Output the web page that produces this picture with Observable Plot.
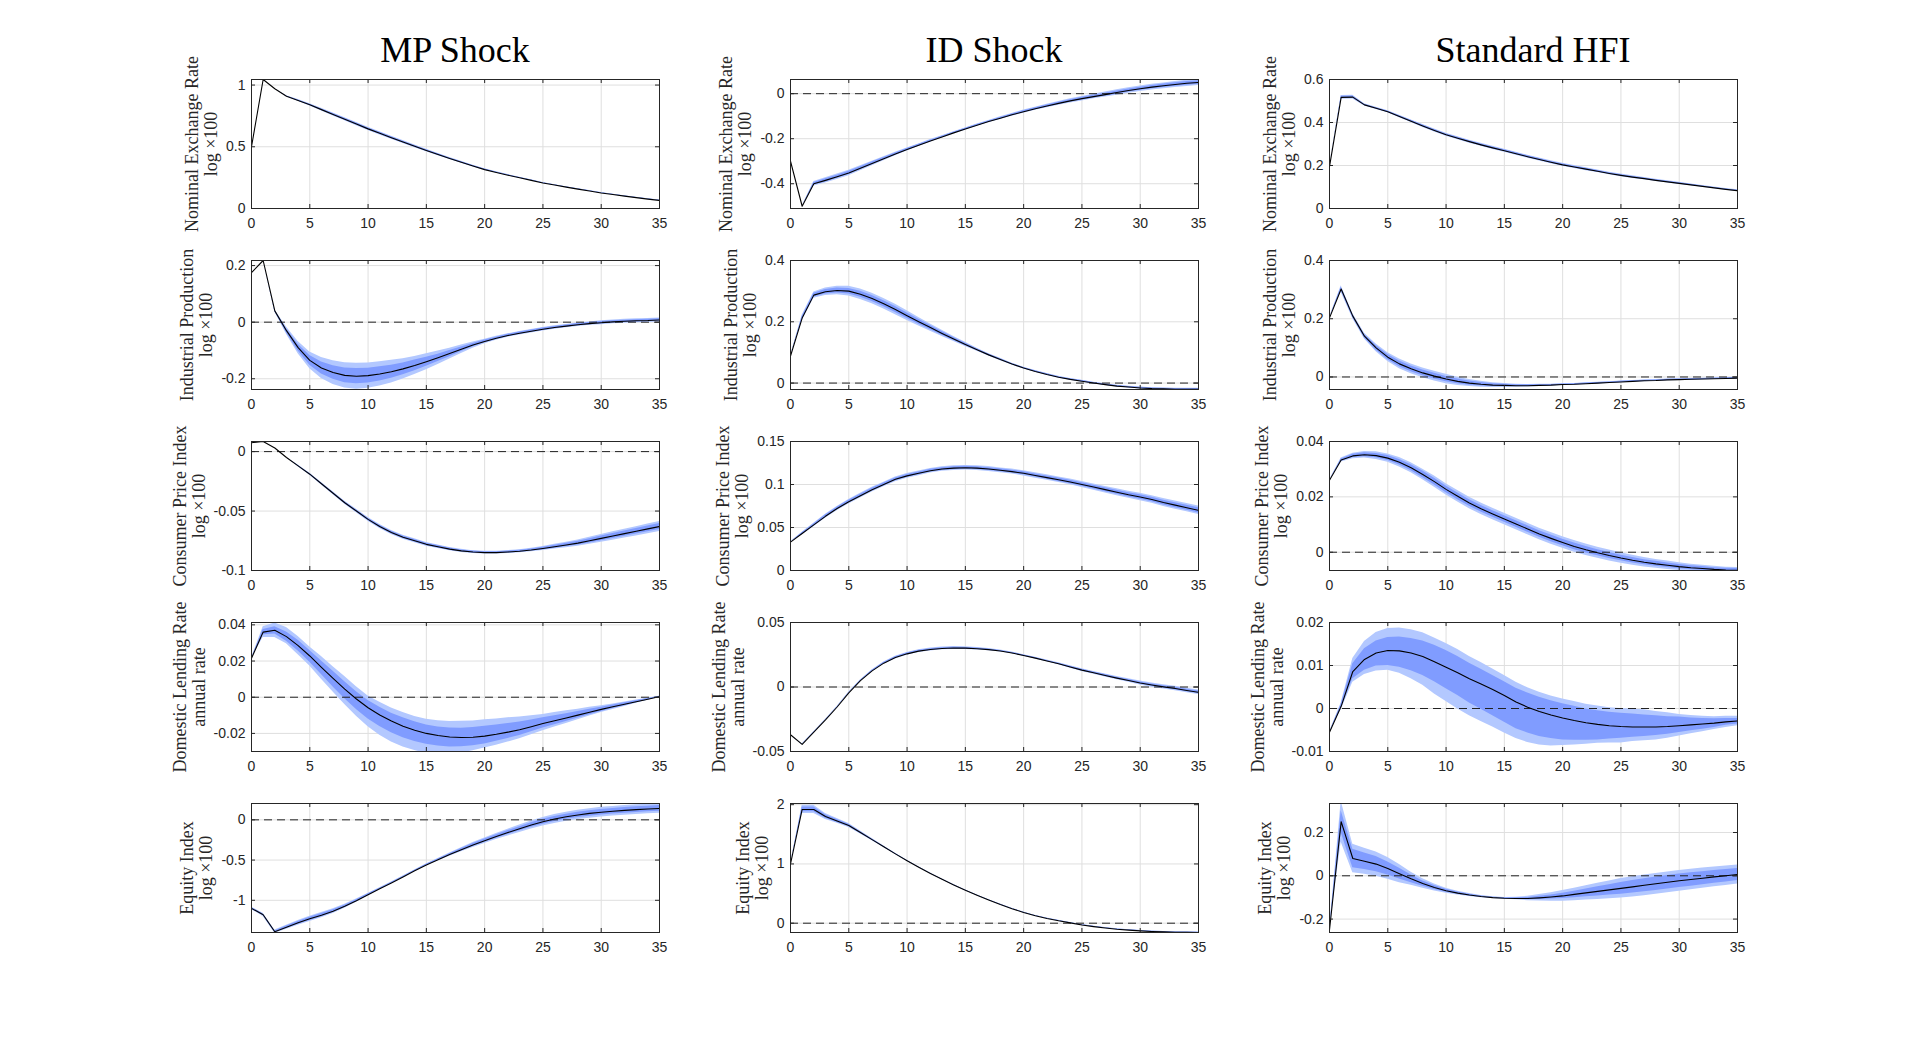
<!DOCTYPE html>
<html>
<head>
<meta charset="utf-8">
<script src="https://cdn.jsdelivr.net/npm/d3@7"></script>
<script src="https://cdn.jsdelivr.net/npm/@observablehq/plot@0.6"></script>
<style>
  html, body { margin: 0; padding: 0; background: #ffffff; }
  #page { position: relative; width: 1920px; height: 1046px; background: #ffffff; overflow: hidden; }
  .title { position: absolute; font-family: "Liberation Serif", "Times New Roman", serif; font-size: 36px; line-height: 36px; color: #000; text-align: center; white-space: nowrap; }
  .cell { position: absolute; }
  .cell svg { overflow: visible; max-width: none; }
</style>
</head>
<body>
<div id="page"></div>
<script>
// ---------------- data ----------------
const horizon = d3.range(0, 36);
const xTicks = [0, 5, 10, 15, 20, 25, 30, 35];
const columnTitles = ["MP Shock", "ID Shock", "Standard HFI"];
const rowLabels = ["Nominal Exchange Rate", "Industrial Production", "Consumer Price Index", "Domestic Lending Rate", "Equity Index"];
const rowUnits = ["log \u00d7100", "log \u00d7100", "log \u00d7100", "annual rate", "log \u00d7100"];

// Row 1: Nominal exchange rate
const mpNer = [0.50,1.045,0.97,0.91,0.875,0.84,0.801,0.762,0.723,0.684,0.645,0.609,0.573,0.538,0.504,0.47,0.437,0.405,0.374,0.344,0.315,0.292,0.27,0.249,0.228,0.207,0.19,0.173,0.157,0.142,0.126,0.113,0.1,0.088,0.076,0.065];
const mpNerIn = [0,0,0,0.002,0.004,0.005,0.006,0.007,0.008,0.008,0.008,0.008,0.008,0.007,0.007,0.006,0.006,0.005,0.005,0.004,0.004,0.003,0.003,0.003,0.002,0.002,0.002,0.002,0.002,0.002,0.002,0.002,0.002,0.002,0.002,0.002];
const mpNerOut = [0,0,0,0.004,0.007,0.009,0.011,0.012,0.013,0.013,0.013,0.013,0.012,0.012,0.011,0.01,0.009,0.008,0.008,0.007,0.006,0.005,0.005,0.004,0.004,0.004,0.003,0.003,0.003,0.003,0.003,0.003,0.003,0.003,0.003,0.003];
const mpNerDomain = [0, 1.045];
const mpNerTicks = [0, 0.5, 1];

const idNer = [-0.30,-0.50,-0.40,-0.385,-0.369,-0.352,-0.331,-0.31,-0.289,-0.268,-0.248,-0.229,-0.21,-0.192,-0.174,-0.157,-0.14,-0.124,-0.109,-0.094,-0.08,-0.067,-0.055,-0.043,-0.032,-0.022,-0.013,-0.004,0.005,0.014,0.022,0.029,0.035,0.041,0.046,0.05];
const idNerIn = [0,0,0.006,0.007,0.007,0.007,0.006,0.006,0.005,0.005,0.004,0.004,0.003,0.003,0.003,0.003,0.003,0.003,0.003,0.004,0.004,0.004,0.005,0.005,0.005,0.006,0.006,0.006,0.007,0.007,0.007,0.007,0.008,0.008,0.008,0.008];
const idNerOut = [0,0,0.01,0.012,0.012,0.012,0.011,0.01,0.009,0.008,0.007,0.006,0.006,0.005,0.005,0.005,0.005,0.005,0.006,0.006,0.007,0.007,0.008,0.008,0.009,0.01,0.01,0.011,0.012,0.012,0.012,0.013,0.013,0.013,0.014,0.014];
const idNerDomain = [-0.51, 0.063];
const idNerTicks = [-0.4, -0.2, 0];

const hfiNer = [0.195,0.517,0.518,0.482,0.466,0.45,0.428,0.406,0.384,0.363,0.343,0.327,0.311,0.296,0.282,0.269,0.255,0.241,0.228,0.215,0.203,0.193,0.183,0.173,0.163,0.154,0.146,0.139,0.131,0.124,0.117,0.11,0.103,0.096,0.089,0.083];
const hfiNerIn = [0,0.005,0.005,0.003,0.003,0.003,0.003,0.004,0.004,0.004,0.004,0.004,0.004,0.004,0.004,0.004,0.004,0.004,0.004,0.004,0.004,0.004,0.004,0.004,0.003,0.003,0.003,0.003,0.003,0.003,0.003,0.003,0.002,0.002,0.002,0.002];
const hfiNerOut = [0,0.009,0.009,0.005,0.005,0.005,0.006,0.006,0.007,0.007,0.007,0.007,0.007,0.007,0.007,0.007,0.007,0.007,0.007,0.007,0.007,0.007,0.007,0.006,0.006,0.006,0.006,0.005,0.005,0.005,0.005,0.004,0.004,0.004,0.004,0.004];
const hfiNerDomain = [0, 0.6];
const hfiNerTicks = [0, 0.2, 0.4, 0.6];

// Row 2: Industrial production
const mpIp = [0.175,0.218,0.04,-0.03,-0.09,-0.135,-0.162,-0.178,-0.188,-0.191,-0.189,-0.183,-0.175,-0.165,-0.153,-0.14,-0.126,-0.111,-0.096,-0.081,-0.068,-0.057,-0.047,-0.039,-0.032,-0.025,-0.019,-0.014,-0.009,-0.005,-0.002,0.001,0.003,0.005,0.006,0.008];
const mpIpIn = [0,0,0.002,0.007,0.012,0.017,0.021,0.024,0.026,0.027,0.026,0.025,0.023,0.021,0.019,0.016,0.013,0.011,0.008,0.006,0.005,0.004,0.004,0.004,0.004,0.004,0.004,0.004,0.004,0.004,0.004,0.004,0.004,0.004,0.004,0.004];
const mpIpOut = [0,0,0.004,0.013,0.022,0.03,0.037,0.042,0.045,0.046,0.045,0.043,0.04,0.036,0.032,0.028,0.024,0.019,0.015,0.011,0.008,0.007,0.006,0.006,0.006,0.006,0.006,0.006,0.006,0.006,0.007,0.007,0.007,0.007,0.007,0.007];
const mpIpDomain = [-0.238, 0.218];
const mpIpTicks = [-0.2, 0, 0.2];

const idIp = [0.088,0.212,0.287,0.298,0.302,0.30,0.29,0.276,0.259,0.24,0.22,0.2,0.181,0.162,0.144,0.126,0.109,0.092,0.077,0.062,0.049,0.038,0.028,0.019,0.012,0.006,0.0,-0.005,-0.01,-0.013,-0.016,-0.018,-0.019,-0.02,-0.02,-0.02];
const idIpIn = [0,0.005,0.006,0.007,0.008,0.009,0.01,0.01,0.01,0.01,0.009,0.008,0.007,0.006,0.005,0.004,0.003,0.003,0.002,0.002,0.002,0.002,0.002,0.002,0.002,0.002,0.002,0.002,0.002,0.002,0.002,0.002,0.002,0.002,0.002,0.002];
const idIpOut = [0,0.009,0.01,0.012,0.014,0.016,0.017,0.017,0.017,0.017,0.016,0.014,0.012,0.01,0.008,0.007,0.005,0.004,0.004,0.003,0.003,0.003,0.003,0.003,0.003,0.003,0.003,0.003,0.003,0.003,0.003,0.003,0.003,0.003,0.003,0.003];
const idIpDomain = [-0.021, 0.4];
const idIpTicks = [0, 0.2, 0.4];

const hfiIp = [0.203,0.302,0.209,0.14,0.1,0.068,0.045,0.028,0.014,0.003,-0.007,-0.015,-0.021,-0.025,-0.028,-0.029,-0.03,-0.03,-0.029,-0.028,-0.026,-0.025,-0.023,-0.021,-0.019,-0.017,-0.015,-0.013,-0.012,-0.01,-0.009,-0.008,-0.007,-0.006,-0.005,-0.004];
const hfiIpIn = [0,0.006,0.005,0.006,0.008,0.009,0.01,0.01,0.01,0.01,0.009,0.008,0.007,0.006,0.005,0.004,0.003,0.003,0.002,0.002,0.002,0.002,0.002,0.002,0.002,0.002,0.002,0.002,0.002,0.002,0.002,0.002,0.002,0.002,0.002,0.002];
const hfiIpOut = [0,0.011,0.009,0.01,0.013,0.015,0.017,0.017,0.017,0.017,0.016,0.014,0.012,0.01,0.008,0.007,0.005,0.004,0.004,0.003,0.003,0.003,0.003,0.003,0.003,0.003,0.003,0.003,0.003,0.003,0.003,0.003,0.003,0.003,0.003,0.003];
const hfiIpDomain = [-0.043, 0.4];
const hfiIpTicks = [0, 0.2, 0.4];

// Row 3: Consumer price index
const mpCpi = [0.0075,0.0085,0.003,-0.005,-0.012,-0.019,-0.027,-0.035,-0.043,-0.05,-0.057,-0.063,-0.068,-0.072,-0.075,-0.078,-0.08,-0.082,-0.0835,-0.0845,-0.085,-0.085,-0.0845,-0.0838,-0.0828,-0.0815,-0.08,-0.0785,-0.077,-0.075,-0.073,-0.071,-0.069,-0.067,-0.065,-0.063];
const mpCpiIn = [0,0,0,0,0.0004,0.0005,0.0006,0.0007,0.0008,0.0009,0.001,0.001,0.001,0.001,0.001,0.001,0.001,0.0009,0.0008,0.0008,0.0008,0.0008,0.0008,0.0008,0.0009,0.001,0.0012,0.0014,0.0016,0.0018,0.002,0.0021,0.0022,0.0023,0.0024,0.0025];
const mpCpiOut = [0,0,0,0,0.0007,0.0009,0.001,0.0012,0.0013,0.0015,0.0016,0.0017,0.0017,0.0017,0.0017,0.0016,0.0015,0.0014,0.0013,0.0012,0.0012,0.0012,0.0012,0.0013,0.0015,0.0017,0.002,0.0023,0.0026,0.0029,0.0032,0.0035,0.0037,0.0039,0.0041,0.0043];
const mpCpiDomain = [-0.1, 0.0085];
const mpCpiTicks = [-0.1, -0.05, 0];

const idCpi = [0.033,0.043,0.053,0.063,0.072,0.08,0.087,0.094,0.1,0.106,0.11,0.113,0.116,0.118,0.119,0.1195,0.119,0.118,0.1165,0.115,0.113,0.1105,0.108,0.1055,0.103,0.1,0.097,0.094,0.091,0.088,0.0855,0.0825,0.079,0.076,0.073,0.07];
const idCpiIn = [0,0.001,0.0012,0.0014,0.0015,0.0016,0.0016,0.0016,0.0016,0.0016,0.0016,0.0016,0.0016,0.0016,0.0016,0.0016,0.0016,0.0016,0.0017,0.0017,0.0018,0.0018,0.0019,0.002,0.002,0.0021,0.0022,0.0023,0.0024,0.0025,0.0026,0.0027,0.0028,0.0029,0.003,0.003];
const idCpiOut = [0,0.0015,0.002,0.0023,0.0025,0.0026,0.0027,0.0027,0.0027,0.0027,0.0027,0.0027,0.0027,0.0027,0.0027,0.0027,0.0027,0.0028,0.0028,0.0029,0.003,0.0031,0.0032,0.0033,0.0034,0.0035,0.0037,0.0038,0.004,0.0041,0.0043,0.0044,0.0046,0.0047,0.0048,0.005];
const idCpiDomain = [0, 0.15];
const idCpiTicks = [0, 0.05, 0.1, 0.15];

const hfiCpi = [0.026,0.0333,0.0348,0.0352,0.0349,0.034,0.0325,0.0305,0.0281,0.0255,0.0227,0.0202,0.0178,0.0157,0.0138,0.012,0.0102,0.0084,0.0066,0.005,0.0035,0.0021,0.0009,-0.0002,-0.0012,-0.0021,-0.0029,-0.0036,-0.0042,-0.0047,-0.0052,-0.0056,-0.0059,-0.0062,-0.0064,-0.0065];
const hfiCpiIn = [0,0.0004,0.0006,0.0007,0.0008,0.0009,0.001,0.0011,0.0012,0.0012,0.0012,0.0012,0.0012,0.0012,0.0012,0.0012,0.0012,0.0012,0.0012,0.0012,0.0012,0.0012,0.0012,0.0011,0.0011,0.001,0.001,0.0009,0.0009,0.0008,0.0008,0.0007,0.0007,0.0006,0.0006,0.0006];
const hfiCpiOut = [0,0.0007,0.001,0.0012,0.0014,0.0015,0.0017,0.0018,0.0019,0.002,0.002,0.0021,0.0021,0.0021,0.0021,0.0021,0.0021,0.0021,0.0021,0.0021,0.0021,0.0021,0.0021,0.002,0.002,0.0019,0.0018,0.0017,0.0016,0.0015,0.0014,0.0013,0.0012,0.0011,0.001,0.001];
const hfiCpiDomain = [-0.0066, 0.04];
const hfiCpiTicks = [0, 0.02, 0.04];

// Row 4: Domestic lending rate
const mpDlr = [0.0215,0.036,0.037,0.0335,0.0285,0.0228,0.0165,0.0104,0.0045,-0.001,-0.0058,-0.0098,-0.0132,-0.016,-0.0183,-0.02,-0.0212,-0.022,-0.0223,-0.0221,-0.0215,-0.0205,-0.0193,-0.018,-0.0163,-0.0145,-0.013,-0.0115,-0.0099,-0.0083,-0.0067,-0.0053,-0.0039,-0.0025,-0.0011,0.0003];
const mpDlrOutUp = [0,0.003,0.004,0.005,0.005,0.005,0.006,0.0065,0.007,0.0068,0.0065,0.007,0.0072,0.0075,0.0077,0.0078,0.0082,0.0086,0.009,0.009,0.009,0.0085,0.008,0.007,0.006,0.005,0.0045,0.004,0.0033,0.0027,0.002,0.0015,0.0012,0.0009,0.0006,0.0003];
const mpDlrOutDn = [0,0.003,0.004,0.004,0.005,0.0055,0.0065,0.0075,0.0085,0.0095,0.0105,0.0112,0.0115,0.0115,0.0112,0.011,0.0105,0.0095,0.0085,0.0075,0.0066,0.006,0.0055,0.005,0.0045,0.004,0.0035,0.003,0.0025,0.0021,0.0018,0.0015,0.0012,0.0009,0.0006,0.0003];
const mpDlrInUp = [0,0.0015,0.002,0.0025,0.003,0.003,0.0035,0.004,0.004,0.004,0.004,0.0042,0.0044,0.0046,0.0047,0.0047,0.0048,0.005,0.0052,0.0054,0.0055,0.0052,0.0048,0.0043,0.0037,0.0031,0.0027,0.0023,0.002,0.0016,0.0012,0.001,0.0008,0.0006,0.0004,0.0002];
const mpDlrInDn = [0,0.0015,0.002,0.0025,0.003,0.0035,0.004,0.0047,0.0053,0.0058,0.0062,0.0064,0.0065,0.0064,0.0062,0.006,0.0058,0.0055,0.0051,0.0047,0.0043,0.0039,0.0035,0.0031,0.0028,0.0025,0.0022,0.0019,0.0016,0.0014,0.0012,0.001,0.0008,0.0006,0.0004,0.0002];
const mpDlrDomain = [-0.030, 0.0413];
const mpDlrTicks = [-0.02, 0, 0.02, 0.04];

const idDlr = [-0.037,-0.0445,-0.035,-0.0255,-0.0155,-0.0045,0.005,0.0125,0.0185,0.0228,0.0257,0.0278,0.0291,0.0299,0.0302,0.0301,0.0297,0.029,0.0279,0.0264,0.0244,0.0224,0.0202,0.018,0.0155,0.0131,0.011,0.0089,0.0069,0.005,0.0031,0.0015,0.0001,-0.0012,-0.0027,-0.0041];
const idDlrIn = [0,0.0002,0.0002,0.0002,0.0002,0.0002,0.0003,0.0004,0.0005,0.0006,0.0006,0.0006,0.0006,0.0006,0.0006,0.0006,0.0005,0.0005,0.0004,0.0004,0.0004,0.0004,0.0004,0.0005,0.0005,0.0006,0.0006,0.0007,0.0007,0.0008,0.0008,0.0009,0.0009,0.001,0.001,0.001];
const idDlrOut = [0,0.0003,0.0003,0.0003,0.0003,0.0004,0.0005,0.0007,0.0009,0.001,0.0011,0.0011,0.0011,0.0011,0.0011,0.0011,0.001,0.0009,0.0008,0.0007,0.0006,0.0006,0.0007,0.0008,0.0009,0.001,0.0011,0.0012,0.0013,0.0014,0.0015,0.0016,0.0016,0.0017,0.0017,0.0018];
const idDlrDomain = [-0.05, 0.05];
const idDlrTicks = [-0.05, 0, 0.05];

const hfiDlr = [-0.0055,0.0005,0.0086,0.0114,0.0129,0.0135,0.0134,0.0129,0.0121,0.0109,0.0096,0.0083,0.0069,0.0057,0.0044,0.003,0.0015,0.0003,-0.0007,-0.0015,-0.0022,-0.0028,-0.0033,-0.0037,-0.004,-0.0042,-0.0043,-0.0043,-0.0043,-0.0042,-0.004,-0.0038,-0.0036,-0.0034,-0.0031,-0.0029];
const hfiDlrOutUp = [0,0.0008,0.003,0.0042,0.0048,0.0051,0.0053,0.0054,0.0055,0.0055,0.0055,0.0054,0.0052,0.005,0.0048,0.0047,0.0046,0.0045,0.0045,0.0044,0.0044,0.0044,0.0043,0.0043,0.0042,0.0042,0.0041,0.004,0.0036,0.0032,0.0026,0.0022,0.0018,0.0015,0.0013,0.0011];
const hfiDlrOutDn = [0,0.0008,0.0025,0.0035,0.0042,0.0046,0.0052,0.006,0.0067,0.0075,0.008,0.0084,0.0086,0.0087,0.0087,0.0087,0.0085,0.0082,0.0078,0.0072,0.0064,0.0057,0.005,0.0044,0.004,0.0038,0.0034,0.0032,0.003,0.0027,0.0024,0.0021,0.0018,0.0015,0.0013,0.0011];
const hfiDlrInUp = [0,0.0005,0.0018,0.0025,0.0028,0.003,0.0032,0.0034,0.0036,0.0038,0.0039,0.0038,0.0036,0.0034,0.0033,0.0032,0.0032,0.0033,0.0033,0.0033,0.0033,0.0033,0.0032,0.0032,0.0031,0.0031,0.003,0.0028,0.0026,0.0023,0.002,0.0016,0.0013,0.001,0.0008,0.0006];
const hfiDlrInDn = [0,0.0005,0.0017,0.0025,0.003,0.0035,0.0038,0.0041,0.0044,0.0047,0.005,0.0053,0.0056,0.0059,0.0061,0.0062,0.0062,0.006,0.0058,0.0055,0.0051,0.0046,0.0041,0.0036,0.0031,0.0027,0.0024,0.0022,0.002,0.0018,0.0016,0.0014,0.0012,0.001,0.0008,0.0007];
const hfiDlrDomain = [-0.01, 0.02];
const hfiDlrTicks = [-0.01, 0, 0.01, 0.02];

// Row 5: Equity index
const mpEq = [-1.1,-1.18,-1.39,-1.335,-1.28,-1.23,-1.185,-1.135,-1.075,-1.005,-0.93,-0.857,-0.785,-0.709,-0.634,-0.56,-0.495,-0.432,-0.371,-0.313,-0.259,-0.207,-0.158,-0.111,-0.065,-0.024,0.01,0.038,0.061,0.08,0.095,0.107,0.118,0.127,0.135,0.142];
const mpEqIn = [0.01,0.01,0.01,0.015,0.018,0.02,0.02,0.018,0.015,0.012,0.01,0.008,0.007,0.006,0.006,0.007,0.009,0.012,0.015,0.018,0.02,0.022,0.024,0.026,0.028,0.03,0.031,0.032,0.033,0.034,0.035,0.035,0.035,0.035,0.035,0.035];
const mpEqOut = [0.015,0.02,0.02,0.025,0.03,0.033,0.033,0.03,0.025,0.02,0.016,0.013,0.011,0.01,0.01,0.012,0.015,0.02,0.025,0.03,0.034,0.038,0.042,0.046,0.05,0.053,0.055,0.057,0.058,0.059,0.06,0.06,0.06,0.06,0.06,0.06];
const mpEqDomain = [-1.40, 0.203];
const mpEqTicks = [-1, -0.5, 0];

const idEq = [1.0,1.92,1.92,1.8,1.725,1.65,1.53,1.41,1.29,1.17,1.055,0.945,0.84,0.74,0.645,0.555,0.47,0.39,0.315,0.245,0.18,0.125,0.08,0.04,0.005,-0.03,-0.058,-0.082,-0.102,-0.117,-0.13,-0.14,-0.147,-0.152,-0.155,-0.157];
const idEqIn = [0,0.04,0.04,0.03,0.025,0.02,0.015,0.012,0.008,0.006,0.005,0.004,0.004,0.004,0.004,0.004,0.004,0.004,0.004,0.004,0.004,0.004,0.004,0.004,0.004,0.005,0.005,0.005,0.005,0.005,0.005,0.005,0.005,0.005,0.005,0.005];
const idEqOut = [0,0.07,0.07,0.05,0.04,0.033,0.026,0.02,0.014,0.01,0.008,0.007,0.007,0.007,0.007,0.007,0.007,0.007,0.007,0.007,0.007,0.007,0.007,0.008,0.008,0.008,0.008,0.008,0.008,0.008,0.008,0.008,0.008,0.008,0.008,0.008];
const idEqDomain = [-0.157, 2.02];
const idEqTicks = [0, 1, 2];

const hfiEq = [-0.25,0.25,0.08,0.067,0.054,0.034,0.01,-0.014,-0.036,-0.054,-0.069,-0.08,-0.089,-0.096,-0.101,-0.104,-0.105,-0.105,-0.102,-0.098,-0.093,-0.086,-0.079,-0.072,-0.065,-0.058,-0.051,-0.044,-0.037,-0.03,-0.023,-0.017,-0.011,-0.005,0.0,0.006];
const hfiEqIn = [0,0.05,0.043,0.038,0.035,0.03,0.025,0.018,0.012,0.009,0.007,0.005,0.004,0.003,0.002,0.002,0.003,0.005,0.007,0.009,0.012,0.015,0.018,0.021,0.024,0.027,0.029,0.03,0.031,0.031,0.031,0.031,0.03,0.03,0.029,0.028];
const hfiEqOut = [0,0.095,0.066,0.06,0.056,0.05,0.042,0.03,0.022,0.016,0.012,0.009,0.007,0.005,0.004,0.004,0.006,0.01,0.015,0.02,0.025,0.029,0.033,0.037,0.041,0.045,0.047,0.048,0.048,0.048,0.048,0.047,0.047,0.046,0.045,0.044];
const hfiEqDomain = [-0.262, 0.334];
const hfiEqTicks = [-0.2, 0, 0.2];

// ---------------- panels ----------------
const panels = [
  {row:0, col:0, mid:mpNer,  inUp:mpNerIn,  inDn:mpNerIn,  outUp:mpNerOut,  outDn:mpNerOut,  domain:mpNerDomain,  ticks:mpNerTicks},
  {row:0, col:1, mid:idNer,  inUp:idNerIn,  inDn:idNerIn,  outUp:idNerOut,  outDn:idNerOut,  domain:idNerDomain,  ticks:idNerTicks},
  {row:0, col:2, mid:hfiNer, inUp:hfiNerIn, inDn:hfiNerIn, outUp:hfiNerOut, outDn:hfiNerOut, domain:hfiNerDomain, ticks:hfiNerTicks},
  {row:1, col:0, mid:mpIp,   inUp:mpIpIn,   inDn:mpIpIn,   outUp:mpIpOut,   outDn:mpIpOut,   domain:mpIpDomain,   ticks:mpIpTicks},
  {row:1, col:1, mid:idIp,   inUp:idIpIn,   inDn:idIpIn,   outUp:idIpOut,   outDn:idIpOut,   domain:idIpDomain,   ticks:idIpTicks},
  {row:1, col:2, mid:hfiIp,  inUp:hfiIpIn,  inDn:hfiIpIn,  outUp:hfiIpOut,  outDn:hfiIpOut,  domain:hfiIpDomain,  ticks:hfiIpTicks},
  {row:2, col:0, mid:mpCpi,  inUp:mpCpiIn,  inDn:mpCpiIn,  outUp:mpCpiOut,  outDn:mpCpiOut,  domain:mpCpiDomain,  ticks:mpCpiTicks},
  {row:2, col:1, mid:idCpi,  inUp:idCpiIn,  inDn:idCpiIn,  outUp:idCpiOut,  outDn:idCpiOut,  domain:idCpiDomain,  ticks:idCpiTicks},
  {row:2, col:2, mid:hfiCpi, inUp:hfiCpiIn, inDn:hfiCpiIn, outUp:hfiCpiOut, outDn:hfiCpiOut, domain:hfiCpiDomain, ticks:hfiCpiTicks},
  {row:3, col:0, mid:mpDlr,  inUp:mpDlrInUp, inDn:mpDlrInDn, outUp:mpDlrOutUp, outDn:mpDlrOutDn, domain:mpDlrDomain, ticks:mpDlrTicks},
  {row:3, col:1, mid:idDlr,  inUp:idDlrIn,  inDn:idDlrIn,  outUp:idDlrOut,  outDn:idDlrOut,  domain:idDlrDomain,  ticks:idDlrTicks},
  {row:3, col:2, mid:hfiDlr, inUp:hfiDlrInUp, inDn:hfiDlrInDn, outUp:hfiDlrOutUp, outDn:hfiDlrOutDn, domain:hfiDlrDomain, ticks:hfiDlrTicks},
  {row:4, col:0, mid:mpEq,   inUp:mpEqIn,   inDn:mpEqIn,   outUp:mpEqOut,   outDn:mpEqOut,   domain:mpEqDomain,   ticks:mpEqTicks},
  {row:4, col:1, mid:idEq,   inUp:idEqIn,   inDn:idEqIn,   outUp:idEqOut,   outDn:idEqOut,   domain:idEqDomain,   ticks:idEqTicks},
  {row:4, col:2, mid:hfiEq,  inUp:hfiEqIn,  inDn:hfiEqIn,  outUp:hfiEqOut,  outDn:hfiEqOut,  domain:hfiEqDomain,  ticks:hfiEqTicks}
];

// ---------------- layout & style ----------------
const colLeft = [251, 790, 1329];
const rowTop = [79, 260, 441, 622, 803];
const W = 408, H = 129;
const ML = 130, MR = 20, MT = 8, MB = 34;
const LIGHT = "#b3c8ff", DARK = "#809cff", GRID = "#dfdfdf", AX = "#262626";
const SANS = "'Liberation Sans', Arial, Helvetica, sans-serif";
const SERIF = "'Liberation Serif', 'Times New Roman', serif";
const fmt = d => String(d);

const canvas = document.createElement("canvas");
const ctx = canvas.getContext("2d");
ctx.font = "14px 'Liberation Sans'";
const measure = s => ctx.measureText(s).width;

const page = document.getElementById("page");

columnTitles.forEach((t, c) => {
  const div = document.createElement("div");
  div.className = "title";
  div.style.left = colLeft[c] + "px";
  div.style.width = W + "px";
  div.style.top = "32px";
  div.textContent = t;
  page.appendChild(div);
});

panels.forEach(p => {
  const rows = horizon.map((x, i) => ({
    x,
    m: p.mid[i],
    lo1: p.mid[i] - p.inDn[i], hi1: p.mid[i] + p.inUp[i],
    lo2: p.mid[i] - p.outDn[i], hi2: p.mid[i] + p.outUp[i]
  }));
  const tw = Math.max(...p.ticks.map(t => measure(fmt(t))));
  const off2 = 6 + tw + 9;
  const off1 = off2 + 19;
  const marks = [
    Plot.ruleX(xTicks, {x: d => d, stroke: GRID}),
    Plot.ruleY(p.ticks, {y: d => d, stroke: GRID}),
    Plot.areaY(rows, {x: "x", y1: "lo2", y2: "hi2", fill: LIGHT, clip: true}),
    Plot.areaY(rows, {x: "x", y1: "lo1", y2: "hi1", fill: DARK, clip: true})
  ];
  if (p.domain[0] < 0 && p.domain[1] > 0) {
    marks.push(Plot.ruleY([0], {stroke: "#222222", strokeWidth: 1, strokeDasharray: "8,5"}));
  }
  marks.push(
    Plot.lineY(rows, {x: "x", y: "m", stroke: "#000000", strokeWidth: 1.1, clip: true}),
    Plot.frame({stroke: AX, strokeWidth: 1}),
    Plot.tickX(xTicks, {x: d => d, stroke: AX, insetTop: H - 4}),
    Plot.tickX(xTicks, {x: d => d, stroke: AX, insetBottom: H - 4}),
    Plot.tickY(p.ticks, {y: d => d, stroke: AX, insetRight: W - 4}),
    Plot.tickY(p.ticks, {y: d => d, stroke: AX, insetLeft: W - 4}),
    Plot.axisX({ticks: xTicks, tickSize: 0, tickPadding: 10, tickFormat: fmt, fontSize: 14, fill: AX, label: null}),
    Plot.axisY({ticks: p.ticks, tickSize: 0, tickPadding: 6, tickFormat: fmt, fontSize: 14, fill: AX, label: null}),
    Plot.text([rowLabels[p.row]], {text: d => d, frameAnchor: "left", rotate: -90, dx: -off1, textAnchor: "middle", lineAnchor: "bottom", fontFamily: SERIF, fontSize: 18, fill: AX}),
    Plot.text([rowUnits[p.row]], {text: d => d, frameAnchor: "left", rotate: -90, dx: -off2, textAnchor: "middle", lineAnchor: "bottom", fontFamily: SERIF, fontSize: 18, fill: AX})
  );
  const chart = Plot.plot({
    width: W + ML + MR,
    height: H + MT + MB,
    marginLeft: ML, marginRight: MR, marginTop: MT, marginBottom: MB,
    x: {domain: [0, 35]},
    y: {domain: p.domain},
    style: {fontFamily: SANS, fontSize: "14px", background: "transparent", color: AX, overflow: "visible"},
    marks
  });
  const cell = document.createElement("div");
  cell.className = "cell";
  cell.style.left = (colLeft[p.col] - ML) + "px";
  cell.style.top = (rowTop[p.row] - MT) + "px";
  cell.style.width = (W + ML + MR) + "px";
  cell.style.height = (H + MT + MB) + "px";
  cell.appendChild(chart);
  page.appendChild(cell);
});
</script>
</body>
</html>
